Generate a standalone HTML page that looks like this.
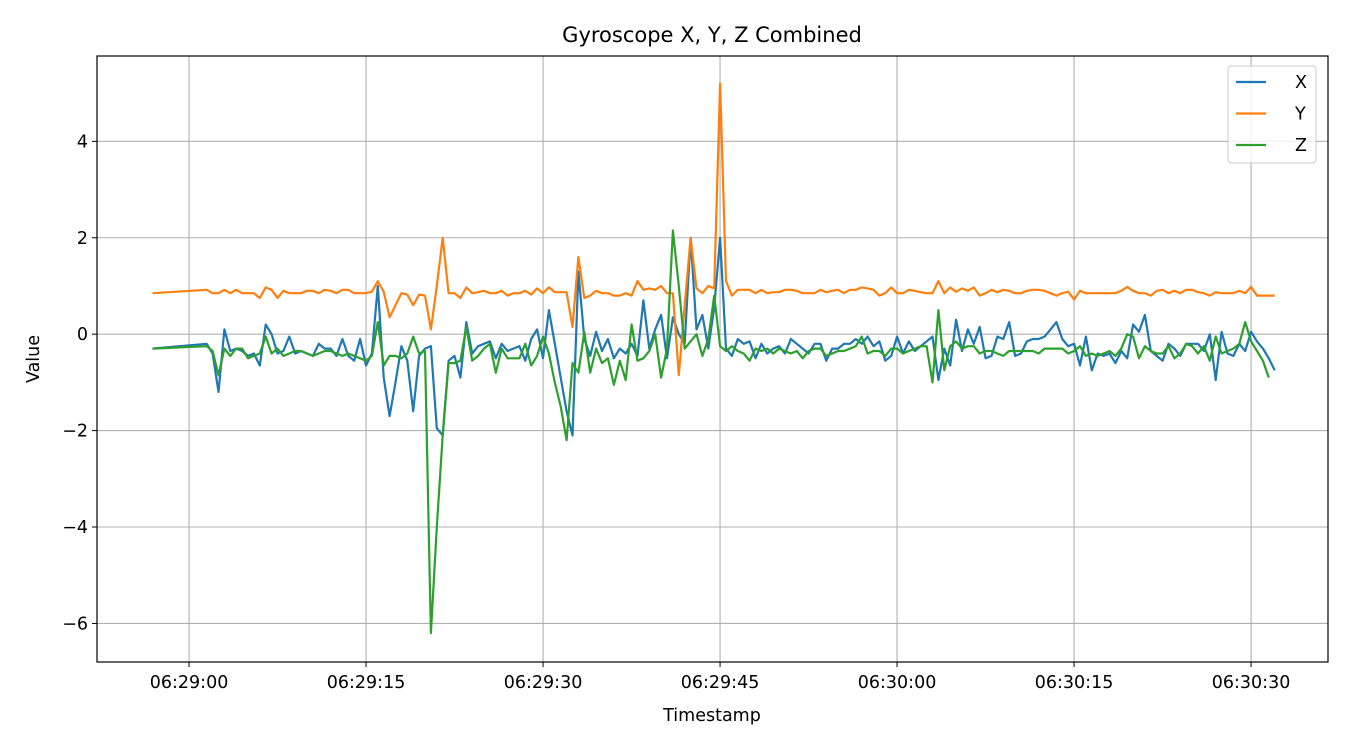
<!DOCTYPE html>
<html><head><meta charset="utf-8"><style>
body{margin:0;background:#fff}
svg text{font-family:"DejaVu Sans","Liberation Sans",sans-serif;fill:#000}
</style></head><body>
<svg id="chart" width="1350" height="750" xmlns="http://www.w3.org/2000/svg">
<rect width="1350" height="750" fill="#fff"/>
<g id="grid"></g>
<g id="series"></g>
<rect x="97" y="56" width="1231" height="606" fill="none" stroke="#000" stroke-width="1.2"/>
<g id="ticks"></g>
<text x="712" y="42" font-size="21" text-anchor="middle">Gyroscope X, Y, Z Combined</text>
<text x="712" y="721" font-size="17.5" text-anchor="middle">Timestamp</text>
<text x="39" y="359" font-size="17.5" text-anchor="middle" transform="rotate(-90 39 359)">Value</text>
<g id="legend"></g>
</svg>
<script>
const times=[-3.1,1.5,2,2.5,3,3.5,4,4.5,5,5.5,6,6.5,7,7.5,8,8.5,9,9.5,10,10.5,11,11.5,12,12.5,13,13.5,14,14.5,15,15.5,16,16.5,17,17.5,18,18.5,19,19.5,20,20.5,21,21.5,22,22.5,23,23.5,24,24.5,25,25.5,26,26.5,27,27.5,28,28.5,29,29.5,30,30.5,31,31.5,32,32.5,33,33.5,34,34.5,35,35.5,36,36.5,37,37.5,38,38.5,39,39.5,40,40.5,41,41.5,42,42.5,43,43.5,44,44.5,45,45.5,46,46.5,47,47.5,48,48.5,49,49.5,50,50.5,51,51.5,52,52.5,53,53.5,54,54.5,55,55.5,56,56.5,57,57.5,58,58.5,59,59.5,60,60.5,61,61.5,62,62.5,63,63.5,64,64.5,65,65.5,66,66.5,67,67.5,68,68.5,69,69.5,70,70.5,71,71.5,72,72.5,73,73.5,74,74.5,75,75.5,76,76.5,77,77.5,78,78.5,79,79.5,80,80.5,81,81.5,82,82.5,83,83.5,84,84.5,85,85.5,86,86.5,87,87.5,88,88.5,89,89.5,90,90.5,91,91.5,92];
const seriesX=[-0.3,
-0.2,-0.4,-1.2,0.1,-0.35,-0.3,-0.35,-0.45,-0.4,-0.65,
0.2,0.0,-0.4,-0.35,-0.05,-0.4,-0.35,-0.4,-0.45,-0.2,
-0.3,-0.3,-0.45,-0.1,-0.45,-0.55,-0.1,-0.65,-0.4,1.0,
-0.9,-1.7,-1.0,-0.25,-0.55,-1.6,-0.45,-0.3,-0.25,-1.95,
-2.1,-0.55,-0.45,-0.9,0.25,-0.4,-0.25,-0.2,-0.15,-0.5,
-0.2,-0.35,-0.3,-0.25,-0.55,-0.1,0.1,-0.5,0.5,-0.2,
-0.9,-1.6,-2.1,1.3,-0.1,-0.45,0.05,-0.35,-0.1,-0.5,
-0.3,-0.4,-0.2,-0.45,0.7,-0.3,0.1,0.4,-0.5,0.35,
0.0,-0.2,2.0,0.1,0.4,-0.3,0.55,2.0,-0.3,-0.45,
-0.1,-0.2,-0.15,-0.5,-0.2,-0.4,-0.3,-0.25,-0.4,-0.1,
-0.2,-0.3,-0.4,-0.2,-0.2,-0.55,-0.3,-0.3,-0.2,-0.2,
-0.1,-0.2,-0.05,-0.25,-0.15,-0.55,-0.45,-0.05,-0.4,-0.15,
-0.35,-0.25,-0.15,-0.05,-0.95,-0.3,-0.65,0.3,-0.35,0.1,
-0.2,0.15,-0.5,-0.45,-0.05,-0.1,0.25,-0.45,-0.4,-0.15,
-0.1,-0.1,-0.05,0.1,0.25,-0.1,-0.25,-0.2,-0.65,-0.05,
-0.75,-0.4,-0.45,-0.4,-0.6,-0.35,-0.5,0.2,0.05,0.4,
-0.35,-0.45,-0.55,-0.2,-0.3,-0.45,-0.2,-0.2,-0.2,-0.35,
0.0,-0.95,0.05,-0.4,-0.45,-0.2,-0.35,0.05,-0.15,-0.3,
-0.5,-0.75];
const seriesY=[0.85,
0.92,0.85,0.85,0.92,0.85,0.92,0.85,0.85,0.85,0.75,
0.97,0.92,0.75,0.9,0.85,0.85,0.85,0.9,0.9,0.85,
0.92,0.9,0.85,0.92,0.92,0.85,0.85,0.85,0.88,1.1,
0.88,0.35,0.6,0.85,0.82,0.6,0.82,0.8,0.1,1.0,
2.0,0.85,0.85,0.75,0.97,0.85,0.87,0.9,0.85,0.85,
0.9,0.8,0.85,0.85,0.9,0.82,0.95,0.85,0.97,0.87,
0.87,0.87,0.15,1.6,0.75,0.8,0.9,0.85,0.85,0.8,
0.8,0.85,0.8,1.1,0.92,0.95,0.92,1.0,0.85,0.85,
-0.85,0.6,2.0,0.95,0.85,1.0,0.95,5.2,1.1,0.8,
0.92,0.92,0.92,0.85,0.92,0.85,0.87,0.87,0.92,0.92,
0.9,0.85,0.85,0.85,0.92,0.87,0.9,0.92,0.85,0.92,
0.92,0.97,0.95,0.92,0.8,0.85,0.97,0.85,0.85,0.92,
0.9,0.87,0.85,0.85,1.1,0.85,0.97,0.88,0.95,0.9,
0.97,0.8,0.85,0.92,0.87,0.92,0.9,0.85,0.85,0.9,
0.92,0.92,0.9,0.85,0.8,0.85,0.88,0.72,0.9,0.85,
0.85,0.85,0.85,0.85,0.85,0.9,0.98,0.9,0.85,0.85,
0.8,0.9,0.92,0.85,0.9,0.85,0.92,0.92,0.87,0.85,
0.8,0.87,0.85,0.85,0.85,0.9,0.85,0.98,0.8,0.8,
0.8,0.8];
const seriesZ=[-0.3,
-0.25,-0.35,-0.85,-0.3,-0.45,-0.3,-0.3,-0.5,-0.45,-0.4,
-0.05,-0.4,-0.3,-0.45,-0.4,-0.35,-0.35,-0.4,-0.45,-0.4,
-0.35,-0.35,-0.4,-0.45,-0.4,-0.45,-0.5,-0.55,-0.45,0.25,
-0.65,-0.45,-0.45,-0.5,-0.4,-0.05,-0.4,-0.35,-6.2,-4.0,
-2.1,-0.6,-0.6,-0.55,0.15,-0.55,-0.45,-0.3,-0.2,-0.8,
-0.3,-0.5,-0.5,-0.5,-0.2,-0.65,-0.45,-0.05,-0.4,-1.0,
-1.5,-2.2,-0.6,-0.8,0.05,-0.8,-0.3,-0.6,-0.5,-1.05,
-0.55,-0.95,0.2,-0.55,-0.5,-0.35,0.0,-0.9,-0.3,2.15,
1.0,-0.3,-0.15,0.0,-0.45,-0.1,0.8,-0.25,-0.35,-0.25,
-0.35,-0.4,-0.55,-0.3,-0.35,-0.3,-0.4,-0.3,-0.35,-0.4,
-0.35,-0.5,-0.35,-0.3,-0.3,-0.45,-0.4,-0.35,-0.35,-0.3,
-0.25,-0.05,-0.4,-0.35,-0.35,-0.45,-0.3,-0.3,-0.4,-0.35,
-0.3,-0.25,-0.25,-1.0,0.5,-0.75,-0.25,-0.15,-0.3,-0.25,
-0.25,-0.4,-0.35,-0.35,-0.4,-0.45,-0.35,-0.35,-0.35,-0.35,
-0.35,-0.4,-0.3,-0.3,-0.3,-0.3,-0.4,-0.35,-0.25,-0.45,
-0.4,-0.45,-0.4,-0.35,-0.45,-0.3,0.0,-0.05,-0.5,-0.25,
-0.35,-0.4,-0.4,-0.25,-0.5,-0.4,-0.2,-0.25,-0.4,-0.25,
-0.55,-0.05,-0.4,-0.35,-0.3,-0.2,0.25,-0.15,-0.35,-0.55,
-0.9];
const xTickSecs=[0,15,30,45,60,75,90];
const xTickLabels=["06:29:00","06:29:15","06:29:30","06:29:45","06:30:00","06:30:15","06:30:30"];
const yTicks=[-6,-4,-2,0,2,4];
const seriesNames=["X","Y","Z"];
const seriesColors=["#1f77b4","#ff7f0e","#2ca02c"];

const NS="http://www.w3.org/2000/svg";
const L=97,R=1328,T=56,B=662;
const xMin=-7.8,xMax=96.52,yMin=-6.8,yMax=5.77;
function sx(t){return L+(t-xMin)/(xMax-xMin)*(R-L);}
function sy(v){return B-(v-yMin)/(yMax-yMin)*(B-T);}
function mk(tag,attrs,parent){const e=document.createElementNS(NS,tag);for(const k in attrs)e.setAttribute(k,attrs[k]);parent.appendChild(e);return e;}
const grid=document.getElementById('grid'),ticks=document.getElementById('ticks');
xTickSecs.forEach((s,i)=>{
  const x=sx(s);
  const g=mk('line',{x1:x,x2:x,y1:T,y2:B,stroke:'#b0b0b0','stroke-width':1.1},grid);
  
  
  const tk=mk('line',{x1:x,x2:x,y1:B,y2:B+5,stroke:'#000','stroke-width':1},ticks);
  
  
  const tx=mk('text',{x:x,y:B+26,'font-size':17.5,'text-anchor':'middle'},ticks);
  tx.textContent=xTickLabels[i];
  
  
});
yTicks.forEach(v=>{
  const y=sy(v);
  const g=mk('line',{x1:L,x2:R,y1:y,y2:y,stroke:'#b0b0b0','stroke-width':1.1},grid);
  
  
  const tk=mk('line',{x1:L-5,x2:L,y1:y,y2:y,stroke:'#000','stroke-width':1},ticks);
  
  
  const tx=mk('text',{x:L-9,y:y+6,'font-size':17.5,'text-anchor':'end'},ticks);
  tx.textContent=(v<0?'\u2212'+Math.abs(v):String(v));
  
  
});
const sg=document.getElementById('series');
[seriesX,seriesY,seriesZ].forEach((vals,si)=>{
  const d=vals.map((v,i)=>(i?'L':'M')+sx(times[i]).toFixed(1)+','+sy(v).toFixed(1)).join('');
  const p=mk('path',{d:d,fill:'none',stroke:seriesColors[si],'stroke-width':2.2,'stroke-linejoin':'round'},sg);
  
  
});
const lg=document.getElementById('legend');
const box=mk('rect',{x:1228,y:66,width:88,height:97,rx:3,fill:'#fff','fill-opacity':0.8,stroke:'#ccc'},lg);


seriesNames.forEach((n,i)=>{
  const y=82+i*31.5;
  const ln=mk('line',{x1:1236,x2:1266,y1:y,y2:y,stroke:seriesColors[i],'stroke-width':2.2},lg);
  
  
  const t=mk('text',{x:1295,y:y+6,'font-size':17.5},lg);
  t.textContent=n;
  
  
});
</script>
</body></html>
